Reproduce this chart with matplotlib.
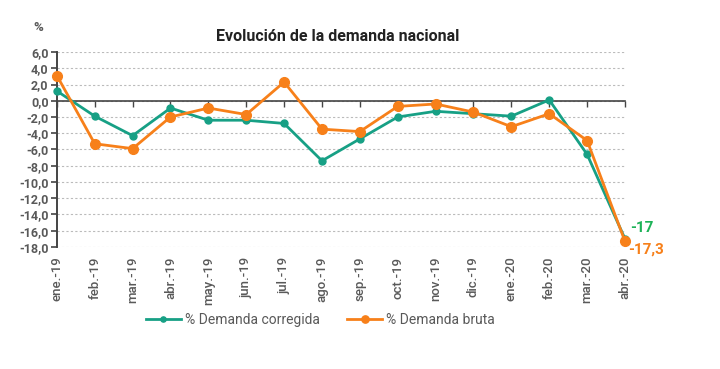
import numpy as np
import matplotlib
matplotlib.use("Agg")
import matplotlib.pyplot as plt

months = ["ene.-19", "feb.-19", "mar.-19", "abr.-19", "may.-19", "jun.-19", "jul.-19",
          "ago.-19", "sep.-19", "oct.-19", "nov.-19", "dic.-19", "ene.-20", "feb.-20",
          "mar.-20", "abr.-20"]
corregida = [1.2, -1.9, -4.3, -0.9, -2.4, -2.4, -2.8, -7.4, -4.7, -2.0, -1.3, -1.6,
             -1.9, 0.1, -6.6, -17.0]
bruta = [3.1, -5.3, -5.9, -2.0, -0.9, -1.7, 2.3, -3.5, -3.8, -0.7, -0.4, -1.4,
         -3.2, -1.6, -4.9, -17.3]
yticks = np.arange(-18, 7, 2)

green = "#17a085"
orange = "#f7801a"
grey = "#595959"

plt.rcParams['font.family'] = ['Roboto', 'DejaVu Sans']

fig = plt.figure(figsize=(7.2, 3.69), dpi=100)
ax = fig.add_axes([0.079, 0.331, 0.789, 0.528])

x = np.arange(len(months))
ax.plot(x, corregida, color=green, lw=2.0, marker="o", ms=5, clip_on=False, zorder=3,
        label="% Demanda corregida")
ax.plot(x, bruta, color=orange, lw=2.0, marker="o", ms=7, clip_on=False, zorder=4,
        label="% Demanda bruta")

ax.set_xlim(0, len(months) - 1)
ax.set_ylim(-18, 6)
ax.set_yticks(yticks)
ax.set_yticklabels([f"{v:.1f}".replace(".", ",") for v in yticks],
                   fontsize=9, color=grey, fontweight="bold")
ax.tick_params(axis="y", length=4, width=1.2, color="#444444", pad=2)
ax.grid(axis="y", color="#bbbbbb", ls=(0, (2, 2)), lw=0.8)
ax.set_axisbelow(True)

for s in ["top", "right"]:
    ax.spines[s].set_visible(False)
ax.spines["left"].set_color("#444444")
ax.spines["left"].set_linewidth(1.4)
ax.spines["bottom"].set_position(("data", 0))
ax.spines["bottom"].set_color("#444444")
ax.spines["bottom"].set_linewidth(1.2)
ax.set_xticks(x)
ax.tick_params(axis="x", length=4, width=1.0, color="#444444", labelbottom=False)

sec = ax.secondary_xaxis("bottom")
sec.set_xticks(x)
sec.set_xticklabels(months, rotation=90, fontsize=9.5, color=grey, fontweight="medium")
sec.tick_params(length=0, pad=7)
sec.spines["bottom"].set_visible(False)

ax.annotate(f"{corregida[-1]:g}", (x[-1], corregida[-1]), xytext=(4, 8),
            textcoords="offset points", color="#1db257", fontsize=11,
            fontweight="bold", va="center", ha="left")
ax.annotate(f"{bruta[-1]:g}".replace(".", ","), (x[-1], bruta[-1]), xytext=(2, -6),
            textcoords="offset points", color=orange, fontsize=11,
            fontweight="bold", va="center", ha="left")

fig.text(0.469, 0.9, "Evolución de la demanda nacional", ha="center", va="center",
         fontsize=11.5, fontweight="bold", color="#222222")
fig.text(0.053, 0.925, "%", ha="center", va="center", fontsize=9.5,
         fontweight="bold", color=grey)

fig.legend(loc="center", bbox_to_anchor=(0.445, 0.133), ncol=2, frameon=False,
           fontsize=10, handlelength=2.5, handletextpad=0.3, columnspacing=2,
           labelcolor=grey, markerscale=0.75)

fig.savefig("out.png", dpi=100)
